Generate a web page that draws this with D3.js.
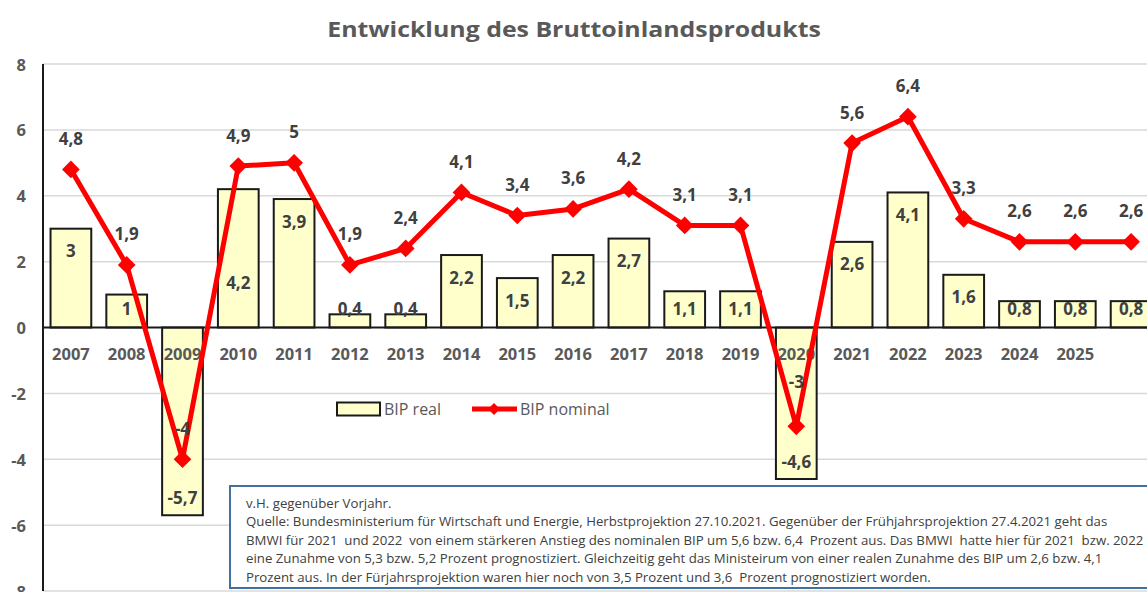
<!DOCTYPE html>
<html>
<head>
<meta charset="utf-8">
<script src="https://cdn.jsdelivr.net/npm/d3@7"></script>
<style>
    body { margin:0; background:white; overflow:hidden; }
    svg { display:block; font-family:"Open Sans", sans-serif; }
    .grid line { stroke:#d9d9d9; stroke-width:1.5; }
    .tickLabel, .catLabel { fill:#595959; font-weight:bold; font-size:16.5px; }
    .barLabel, .lineLabel { fill:#404040; font-weight:bold; font-size:17px; }
    .legend text { fill:#595959; font-size:16px; }
    .note text { fill:#404040; font-size:13px; white-space:pre; }
</style>
</head>
<body>
<svg></svg>
<script>

//categories on the x axis (last one has no label in the picture)
var years = ["2007","2008","2009","2010","2011","2012","2013","2014","2015","2016",
             "2017","2018","2019","2020","2021","2022","2023","2024","2025","2026"];
var yearLabels = ["2007","2008","2009","2010","2011","2012","2013","2014","2015","2016",
                  "2017","2018","2019","2020","2021","2022","2023","2024","2025",""];

//BIP real (bars)
var bipReal = [3, 1, -5.7, 4.2, 3.9, 0.4, 0.4, 2.2, 1.5, 2.2,
               2.7, 1.1, 1.1, -4.6, 2.6, 4.1, 1.6, 0.8, 0.8, 0.8];

//BIP nominal (line)
var bipNominal = [4.8, 1.9, -4, 4.9, 5, 1.9, 2.4, 4.1, 3.4, 3.6,
                  4.2, 3.1, 3.1, -3, 5.6, 6.4, 3.3, 2.6, 2.6, 2.6];

var yTicks = [-8, -6, -4, -2, 0, 2, 4, 6, 8];

var seriesNames = ["BIP real", "BIP nominal"];

var noteLines = [
    "v.H. gegenüber Vorjahr.",
    "Quelle: Bundesministerium für Wirtschaft und Energie, Herbstprojektion 27.10.2021. Gegenüber der Frühjahrsprojektion 27.4.2021 geht das",
    "BMWI für 2021  und 2022  von einem stärkeren Anstieg des nominalen BIP um 5,6 bzw. 6,4  Prozent aus. Das BMWI  hatte hier für 2021  bzw. 2022",
    "eine Zunahme von 5,3 bzw. 5,2 Prozent prognostiziert. Gleichzeitig geht das Ministeirum von einer realen Zunahme des BIP um 2,6 bzw. 4,1",
    "Prozent aus. In der Fürjahrsprojektion waren hier noch von 3,5 Prozent und 3,6  Prozent prognostiziert worden."
];

var fmt = function(v) { return String(v).replace(".", ","); };

var screen = {width:1147, height:592};
var plot = {left:43, right:1159, top:64, bottom:591};

var svg = d3.select("svg")
    .attr("width", screen.width)
    .attr("height", screen.height);

var xScale = d3.scaleBand()
    .domain(years)
    .range([plot.left, plot.right])
    .paddingInner(0.27)
    .paddingOuter(0.135);

var yScale = d3.scaleLinear()
    .domain([-8, 8])
    .range([plot.bottom, plot.top]);

var cx = function(i) { return xScale(years[i]) + xScale.bandwidth()/2; };

//squeeze a text element horizontally so it spans the given width
var fitWidth = function(node, width)
{
    var w = node.getComputedTextLength();
    return width / w;
};

//title
var title = svg.append("text")
    .text("Entwicklung des Bruttoinlandsprodukts")
    .attr("text-anchor", "middle")
    .attr("dominant-baseline", "central")
    .style("font-size", "22px")
    .style("font-weight", "bold")
    .style("fill", "#595959");
var tk = fitWidth(title.node(), 494);
title.attr("transform", "translate(574,29) scale(" + tk + ",1)");

//gridlines
svg.append("g")
    .classed("grid", true)
    .selectAll("line")
    .data(yTicks.filter(function(t){ return t != 0; }))
    .enter()
    .append("line")
    .attr("x1", plot.left)
    .attr("x2", screen.width)
    .attr("y1", function(t){ return yScale(t); })
    .attr("y2", function(t){ return yScale(t); });

//y tick labels
svg.append("g")
    .selectAll("text")
    .data(yTicks)
    .enter()
    .append("text")
    .classed("tickLabel", true)
    .text(function(t){ return t; })
    .attr("text-anchor", "end")
    .attr("dominant-baseline", "central")
    .attr("x", 26)
    .attr("y", function(t){ return yScale(t); });

//bars
svg.append("g")
    .selectAll("rect")
    .data(bipReal)
    .enter()
    .append("rect")
    .attr("x", function(v, i){ return xScale(years[i]); })
    .attr("width", xScale.bandwidth())
    .attr("y", function(v){ return yScale(Math.max(v, 0)); })
    .attr("height", function(v){ return Math.abs(yScale(v) - yScale(0)); })
    .attr("fill", "#ffffcc")
    .attr("stroke", "#1a1a1a")
    .attr("stroke-width", 2);

//axis lines
svg.append("line")
    .attr("x1", plot.left).attr("x2", plot.left)
    .attr("y1", plot.top).attr("y2", plot.bottom)
    .attr("stroke", "#1a1a1a").attr("stroke-width", 2);
svg.append("line")
    .attr("x1", plot.left).attr("x2", screen.width)
    .attr("y1", yScale(0)).attr("y2", yScale(0))
    .attr("stroke", "#1a1a1a").attr("stroke-width", 2);

//category labels
svg.append("g")
    .selectAll("text")
    .data(yearLabels)
    .enter()
    .append("text")
    .classed("catLabel", true)
    .text(function(d){ return d; })
    .attr("text-anchor", "middle")
    .attr("dominant-baseline", "central")
    .attr("x", function(d, i){ return cx(i); })
    .attr("y", yScale(0) + 26);

//nominal line
var line = d3.line()
    .x(function(v, i){ return cx(i); })
    .y(function(v){ return yScale(v); });

svg.append("path")
    .datum(bipNominal)
    .attr("d", line)
    .attr("fill", "none")
    .attr("stroke", "#ff0000")
    .attr("stroke-width", 5)
    .attr("stroke-linejoin", "round");

var diamond = d3.symbol().type(d3.symbolDiamond2).size(200);

svg.append("g")
    .selectAll("path")
    .data(bipNominal)
    .enter()
    .append("path")
    .attr("d", diamond)
    .attr("fill", "#ff0000")
    .attr("transform", function(v, i){ return "translate(" + cx(i) + "," + yScale(v) + ")"; });

//bar labels: inside the end of the bar, a few moved by hand like in the picture
var barNudge = {"2010": 71};
svg.append("g")
    .selectAll("text")
    .data(bipReal)
    .enter()
    .append("text")
    .classed("barLabel", true)
    .text(function(v){ return fmt(v); })
    .attr("text-anchor", "middle")
    .attr("dominant-baseline", "central")
    .attr("x", function(v, i){ return cx(i); })
    .attr("y", function(v, i)
    {
        var y;
        if (v >= 0) { y = Math.min(yScale(v) + 22, yScale(0) - 19); }
        else { y = yScale(v) - 18; }
        return y + (barNudge[years[i]] || 0);
    });

//line labels above the markers
var lineNudge = {"2020": -14};
svg.append("g")
    .selectAll("text")
    .data(bipNominal)
    .enter()
    .append("text")
    .classed("lineLabel", true)
    .text(function(v){ return fmt(v); })
    .attr("text-anchor", "middle")
    .attr("dominant-baseline", "central")
    .attr("x", function(v, i){ return cx(i); })
    .attr("y", function(v, i){ return yScale(v) - 31 + (lineNudge[years[i]] || 0); });

//legend
var legend = svg.append("g")
    .classed("legend", true)
    .attr("transform", "translate(337,409)");

legend.append("rect")
    .attr("x", 0).attr("y", -6.5)
    .attr("width", 43).attr("height", 13)
    .attr("fill", "#ffffcc")
    .attr("stroke", "#1a1a1a")
    .attr("stroke-width", 2);
legend.append("text")
    .text(seriesNames[0])
    .attr("x", 47)
    .attr("dominant-baseline", "central");

legend.append("line")
    .attr("x1", 135).attr("x2", 180)
    .attr("y1", 0).attr("y2", 0)
    .attr("stroke", "#ff0000")
    .attr("stroke-width", 5);
legend.append("path")
    .attr("d", d3.symbol().type(d3.symbolDiamond2).size(90))
    .attr("fill", "#ff0000")
    .attr("transform", "translate(157,0)");
legend.append("text")
    .text(seriesNames[1])
    .attr("x", 183)
    .attr("dominant-baseline", "central");

//note box
var note = svg.append("g").classed("note", true);
note.append("rect")
    .attr("x", 230).attr("y", 486)
    .attr("width", 940).attr("height", 102)
    .attr("fill", "white")
    .attr("stroke", "#41719c")
    .attr("stroke-width", 2);

var noteText = note.append("g");
noteText.selectAll("text")
    .data(noteLines)
    .enter()
    .append("text")
    .text(function(d){ return d; })
    .attr("x", 0)
    .attr("y", function(d, i){ return 503 + i*18.5; })
    .attr("dominant-baseline", "central");

var nk = fitWidth(noteText.selectAll("text").nodes()[1], 862);
noteText.attr("transform", "translate(246,0) scale(" + nk + ",1)");

</script>
</body>
</html>
